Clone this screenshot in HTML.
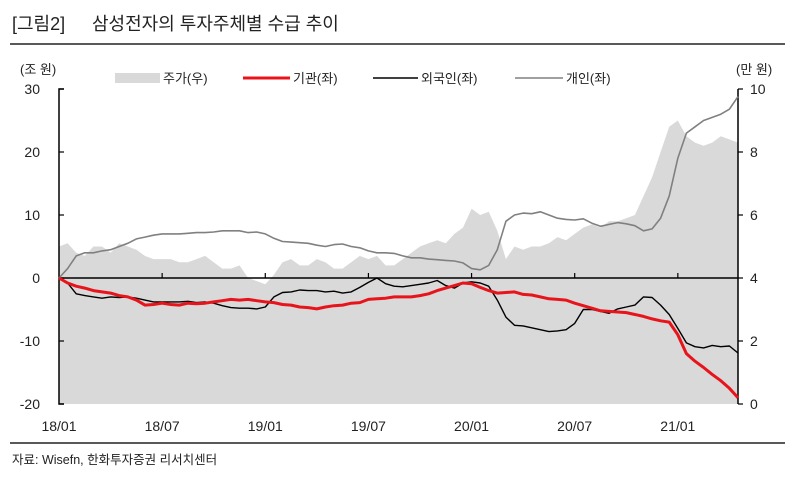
<!DOCTYPE html>
<html><head><meta charset="utf-8">
<style>
body{margin:0;background:#fff;}
svg{display:block;font-family:"Liberation Sans","Noto Sans CJK KR",sans-serif;}
</style></head>
<body>
<svg id="chart" width="800" height="483" viewBox="0 0 800 483">
  <text x="12" y="30" font-size="18" fill="#222">[그림2]</text>
  <text x="92" y="30" font-size="18" fill="#222">삼성전자의 투자주체별 수급 추이</text>
  <line x1="10" y1="44" x2="785" y2="44" stroke="#222" stroke-width="1.5"/>
  <text x="20" y="74" font-size="13" fill="#222">(조 원)</text>
  <text x="736" y="74" font-size="13" fill="#222">(만 원)</text>
  <g id="legend">
    <rect x="115" y="73" width="45" height="10" fill="#d9d9d9"/>
    <text x="163" y="83" font-size="13" fill="#222">주가(우)</text>
    <line x1="243" y1="78" x2="290" y2="78" stroke="#e8141b" stroke-width="3"/>
    <text x="293" y="83" font-size="13" fill="#222">기관(좌)</text>
    <line x1="373" y1="78" x2="418" y2="78" stroke="#000" stroke-width="1.5"/>
    <text x="421" y="83" font-size="13" fill="#222">외국인(좌)</text>
    <line x1="515" y1="78" x2="563" y2="78" stroke="#808080" stroke-width="1.5"/>
    <text x="566" y="83" font-size="13" fill="#222">개인(좌)</text>
  </g>
  <g id="plot"></g>
  <line x1="10" y1="443" x2="785" y2="443" stroke="#222" stroke-width="1.5"/>
  <text x="12" y="464" font-size="12.5" fill="#222">자료: Wisefn, 한화투자증권 리서치센터</text>
</svg>
<script>
const xLabels = ["18/01","18/07","19/01","19/07","20/01","20/07","21/01"];
const leftTicks = [30,20,10,0,-10,-20];
const rightTicks = [10,8,6,4,2,0];
const price = [5.0,5.1,4.8,4.7,5.0,5.0,4.8,5.1,5.0,4.9,4.7,4.6,4.6,4.6,4.5,4.5,4.6,4.7,4.5,4.3,4.3,4.4,4.0,3.9,
  3.8,4.1,4.5,4.6,4.4,4.4,4.6,4.5,4.3,4.3,4.5,4.7,4.6,4.7,4.4,4.4,4.6,4.8,5.0,5.1,5.2,5.1,5.4,5.6,
  6.2,6.0,6.1,5.5,4.6,5.0,4.9,5.0,5.0,5.1,5.3,5.2,5.4,5.6,5.7,5.6,5.8,5.8,5.9,6.0,6.6,7.2,8.0,8.8,
  9.0,8.5,8.3,8.2,8.3,8.5,8.4,8.3];
const institution = [0,-0.8,-1.3,-1.6,-2.0,-2.2,-2.4,-2.8,-3.0,-3.5,-4.3,-4.2,-4.0,-4.2,-4.3,-4.0,-4.1,-4.0,-3.8,-3.6,-3.4,-3.5,-3.4,-3.6,
  -3.8,-3.9,-4.2,-4.3,-4.6,-4.7,-4.9,-4.6,-4.4,-4.3,-4.0,-3.9,-3.4,-3.3,-3.2,-3.0,-3.0,-3.0,-2.8,-2.5,-2.0,-1.6,-1.2,-0.8,
  -0.9,-1.5,-2.0,-2.4,-2.3,-2.2,-2.6,-2.7,-3.0,-3.3,-3.4,-3.5,-4.0,-4.4,-4.8,-5.2,-5.3,-5.4,-5.5,-5.8,-6.1,-6.5,-6.8,-7.0,
  -9.0,-12.0,-13.2,-14.2,-15.3,-16.3,-17.5,-19.0];
const foreign = [0,-0.8,-2.5,-2.8,-3.0,-3.2,-3.0,-3.1,-3.0,-3.2,-3.5,-3.8,-3.8,-3.8,-3.8,-3.7,-3.9,-3.8,-4.0,-4.4,-4.7,-4.8,-4.8,-4.9,
  -4.6,-3.0,-2.3,-2.2,-1.9,-2.0,-2.0,-2.2,-2.1,-2.4,-2.2,-1.5,-0.7,0,-0.9,-1.3,-1.4,-1.2,-1.0,-0.8,-0.4,-1.2,-1.6,-0.8,
  -0.6,-0.8,-1.3,-3.5,-6.2,-7.5,-7.6,-7.9,-8.2,-8.5,-8.4,-8.2,-7.2,-5.0,-5.0,-5.3,-5.6,-4.9,-4.6,-4.3,-3.0,-3.1,-4.3,-5.8,
  -8.0,-10.3,-10.9,-11.1,-10.7,-10.9,-10.8,-11.9];
const individual = [0,1.5,3.5,4.0,4.0,4.3,4.5,5.0,5.5,6.2,6.5,6.8,7.0,7.0,7.0,7.1,7.2,7.2,7.3,7.5,7.5,7.5,7.2,7.3,
  7.0,6.3,5.8,5.7,5.6,5.5,5.2,5.0,5.3,5.4,5.0,4.8,4.3,4.0,4.0,3.9,3.5,3.2,3.2,3.0,2.9,2.8,2.7,2.4,
  1.5,1.3,2.0,4.5,9.0,10.0,10.3,10.2,10.5,10.0,9.5,9.3,9.2,9.4,8.7,8.2,8.5,8.8,8.6,8.3,7.5,7.8,9.5,13.0,
  19.0,23.0,24.0,25.0,25.5,26.0,26.8,28.8];

const X0=59, X1=738, YT=89, YB=404;
const n = price.length;
const xAt = i => X0 + i*(X1-X0)/(n-1);
const monthX = m => X0 + m*(X1-X0)/((n-1)/2);
const yL = v => YB - (v+20)*(YB-YT)/50;
const yR = v => YB - v*(YB-YT)/10;
const NS="http://www.w3.org/2000/svg";
const plot=document.getElementById('plot');
function mk(tag, attrs, parent){const e=document.createElementNS(NS,tag);for(const k in attrs)e.setAttribute(k,attrs[k]);(parent||plot).appendChild(e);return e;}

// price area
let d=`M${X0},${YB}`;
price.forEach((p,i)=>{d+=`L${xAt(i).toFixed(1)},${yR(p).toFixed(1)}`;});
d+=`L${X1},${YB}Z`;
const area=mk('path',{d:d,fill:'#d9d9d9'});



// axes
const la=mk('path',{d:`M${X0+5},${YT}H${X0}V${YB}H${X0+5}`,fill:'none',stroke:'#000','stroke-width':1.5});


const ra=mk('path',{d:`M${X1-0},${YT}V${YB}`,fill:'none',stroke:'#000','stroke-width':1.5});


const zl=mk('line',{x1:X0,y1:yL(0),x2:X1,y2:yL(0),stroke:'#000','stroke-width':1.5});



leftTicks.forEach(v=>{
  const t=mk('line',{x1:X0,x2:X0+5,y1:yL(v),y2:yL(v),stroke:'#000','stroke-width':1.2});
  
  
  const l=mk('text',{x:40,y:yL(v)+5,'font-size':14,'text-anchor':'end',fill:'#222'});
  l.textContent=v;
  
  
});
rightTicks.forEach(v=>{
  const t=mk('line',{x1:X1,x2:X1+5,y1:yR(v),y2:yR(v),stroke:'#000','stroke-width':1.2});
  
  
  const l=mk('text',{x:750,y:yR(v)+5,'font-size':14,fill:'#222'});
  l.textContent=v;
  
  
});
xLabels.forEach((s,k)=>{
  const x=monthX(k*6);
  if(k>0){
    const t=mk('line',{x1:x,x2:x,y1:yL(0),y2:yL(0)-5,stroke:'#000','stroke-width':1.2});
    
    
  }
  const l=mk('text',{x:x,y:431,'font-size':14,'text-anchor':'middle',fill:'#222'});
  l.textContent=s;
  
  
});

function line(arr,color,w){
  return mk('polyline',{points:arr.map((v,i)=>xAt(i).toFixed(1)+','+yL(v).toFixed(1)).join(' '),fill:'none',stroke:color,'stroke-width':w,'stroke-linejoin':'round'});
}
const li=line(individual,'#808080',1.6);


const lf=line(foreign,'#000',1.4);


const lr=line(institution,'#e8141b',3);


</script>
</body></html>
